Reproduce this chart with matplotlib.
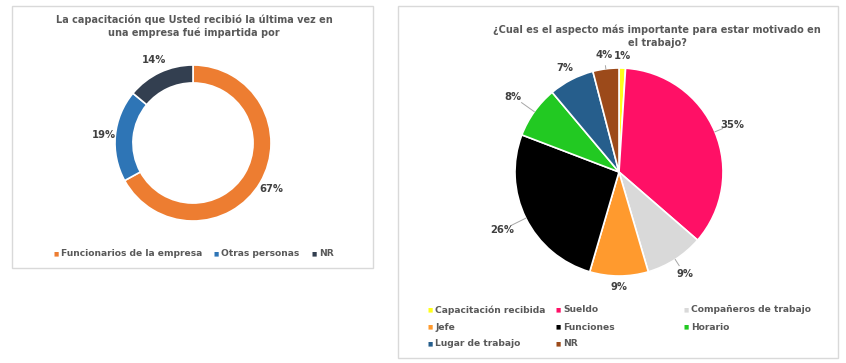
import numpy as np
import matplotlib
matplotlib.use('Agg')
import matplotlib.pyplot as plt
from matplotlib.patches import Rectangle

# Data
cap_labels = ['Funcionarios de la empresa', 'Otras personas', 'NR']
cap_values = [67, 19, 14]
cap_colors = ['#ED7D31', '#2E75B6', '#333F50']

mot_labels = ['Capacitación recibida', 'Sueldo', 'Compañeros de trabajo', 'Jefe',
              'Funciones', 'Horario', 'Lugar de trabajo', 'NR']
mot_values = [1, 35, 9, 9, 26, 8, 7, 4]
mot_colors = ['#FFFF1A', '#FF1066', '#D9D9D9', '#FF9A2E', '#000000', '#22C922', '#265E8C', '#9C4A1A']

W, H = 846, 363
txt = '#595959'
plt.rcParams['font.family'] = ['DejaVu Sans']

fig = plt.figure(figsize=(W / 100, H / 100), dpi=100)


def fx(x):
    return x / W


def fy(y):
    return 1 - y / H


def pie_axes(cx, cy, r, pad=1.5):
    s = r * pad
    ax = fig.add_axes([fx(cx - s), fy(cy + s), 2 * s / W, 2 * s / H])
    ax.axis('off')
    return ax


def fix_limits(ax, pad=1.5):
    ax.set_xlim(-pad, pad)
    ax.set_ylim(-pad, pad)
    ax.set_aspect('equal')


def label_wedges(ax, wedges, values, dists, leaders):
    total = sum(values)
    for w, v, d, lead in zip(wedges, values, dists, leaders):
        ang = np.deg2rad((w.theta1 + w.theta2) / 2)
        x, y = d * np.cos(ang), d * np.sin(ang)
        ax.text(x, y, f'{round(100 * v / total)}%', ha='center', va='center',
                fontsize=7.2, fontweight='bold', color='#404040')
        if lead:
            ax.plot([1.0 * np.cos(ang), (d - 0.1) * np.cos(ang)],
                    [1.0 * np.sin(ang), (d - 0.1) * np.sin(ang)],
                    color='#A6A6A6', lw=0.7)


# panel frames
fig.patches.append(Rectangle((fx(12), fy(268)), (373 - 12) / W, (268 - 6) / H,
                             transform=fig.transFigure, fill=False, ec='#D9D9D9', lw=1))
fig.patches.append(Rectangle((fx(398), fy(358)), (838 - 398) / W, (358 - 6) / H,
                             transform=fig.transFigure, fill=False, ec='#D9D9D9', lw=1))

# Left donut
ax1 = pie_axes(193, 143, 78)
w1, _ = ax1.pie(cap_values, colors=cap_colors, startangle=90, counterclock=False,
                radius=1, wedgeprops=dict(width=0.23, edgecolor='white', linewidth=1.2))
fix_limits(ax1)
label_wedges(ax1, w1, cap_values, [1.17, 1.15, 1.17], [False, False, False])
fig.text(fx(194), fy(26), 'La capacitación que Usted recibió la última vez en\nuna empresa fué impartida por',
         ha='center', va='center', fontsize=7, fontweight='bold', color=txt, linespacing=1.3)

leg1_x = [56, 216, 314]
for x, lab, c in zip(leg1_x, cap_labels, cap_colors):
    fig.text(fx(x), fy(254), '■', ha='center', va='center', fontsize=4, color=c)
    fig.text(fx(x + 5), fy(254), lab, ha='left', va='center', fontsize=6.6,
             fontweight='bold', color=txt)

# Right pie
ax2 = pie_axes(619, 172, 104)
w2, _ = ax2.pie(mot_values, colors=mot_colors, startangle=90, counterclock=False,
                radius=1, wedgeprops=dict(edgecolor='white', linewidth=1.2))
fix_limits(ax2)
label_wedges(ax2, w2, mot_values, [1.12, 1.18, 1.17, 1.11, 1.25, 1.25, 1.13, 1.13],
             [False, True, True, False, True, True, False, True])
fig.text(fx(657), fy(36), '¿Cual es el aspecto más importante para estar motivado en\nel trabajo?',
         ha='center', va='center', fontsize=7, fontweight='bold', color=txt, linespacing=1.35)

leg2_x = [430, 558, 686]
leg2_y = [310, 327, 344]
for i, (lab, c) in enumerate(zip(mot_labels, mot_colors)):
    x = leg2_x[i % 3]
    y = leg2_y[i // 3]
    fig.text(fx(x), fy(y), '■', ha='center', va='center', fontsize=4, color=c)
    fig.text(fx(x + 5), fy(y), lab, ha='left', va='center', fontsize=6.6,
             fontweight='bold', color=txt)

plt.savefig('out.png', dpi=100, facecolor='white')
